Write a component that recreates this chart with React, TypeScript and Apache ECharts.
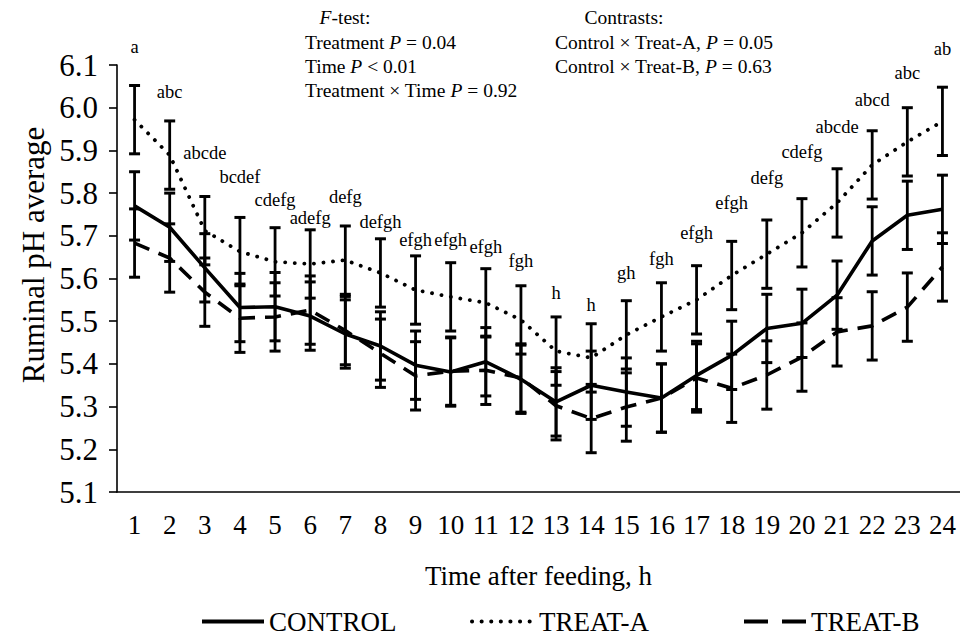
import React, { useEffect, useRef } from "react";
import * as echarts from "echarts";

const hours = ["1","2","3","4","5","6","7","8","9","10","11","12","13","14","15","16","17","18","19","20","21","22","23","24"];
const control = [5.77, 5.72, 5.625, 5.532, 5.534, 5.512, 5.47, 5.442, 5.397, 5.381, 5.405, 5.364, 5.311, 5.35, 5.334, 5.32, 5.373, 5.42, 5.483, 5.495, 5.561, 5.688, 5.748, 5.762];
const treatA = [5.972, 5.889, 5.712, 5.663, 5.639, 5.634, 5.643, 5.613, 5.573, 5.557, 5.543, 5.503, 5.43, 5.414, 5.468, 5.51, 5.55, 5.607, 5.657, 5.707, 5.777, 5.866, 5.92, 5.968];
const treatB = [5.683, 5.648, 5.568, 5.507, 5.51, 5.526, 5.478, 5.425, 5.372, 5.383, 5.385, 5.367, 5.302, 5.272, 5.299, 5.32, 5.367, 5.343, 5.374, 5.416, 5.475, 5.489, 5.533, 5.627];
const sem = 0.08;
const letters = ["a","abc","abcde","bcdef","cdefg","adefg","defg","defgh","efgh","efgh","efgh","fgh","h","h","gh","fgh","efgh","efgh","defg","cdefg","abcde","abcd","abc","ab"];
const letterAt = [6.142, 6.037, 5.894, 5.838, 5.784, 5.742, 5.791, 5.732, 5.69, 5.69, 5.674, 5.641, 5.566, 5.538, 5.613, 5.646, 5.707, 5.777, 5.835, 5.896, 5.955, 6.018, 6.081, 6.137];
const yTicks = { min: 5.1, max: 6.1, step: 0.1 };

const FONT = '"Liberation Serif", "Times New Roman", serif';

function errorBarData(vals: number[]) {
  return vals.map((v, i) => [i, v - sem, v + sem]);
}

function renderErrorBar(params: any, api: any) {
  const x = api.value(0);
  const lo = api.coord([x, api.value(1)]);
  const hi = api.coord([x, api.value(2)]);
  const cap = 5.5;
  const st = { stroke: "#000", lineWidth: 2.8 };
  return {
    type: "group",
    children: [
      { type: "line", shape: { x1: hi[0], y1: hi[1], x2: lo[0], y2: lo[1] }, style: st },
      { type: "line", shape: { x1: hi[0] - cap, y1: hi[1], x2: hi[0] + cap, y2: hi[1] }, style: { stroke: "#000", lineWidth: 3 } },
      { type: "line", shape: { x1: lo[0] - cap, y1: lo[1], x2: lo[0] + cap, y2: lo[1] }, style: { stroke: "#000", lineWidth: 3 } },
    ],
  };
}

function renderLetter(params: any, api: any) {
  const p = api.coord([api.value(0), api.value(1)]);
  return {
    type: "text",
    x: p[0],
    y: p[1],
    style: {
      text: letters[params.dataIndex],
      textAlign: "center",
      textVerticalAlign: "middle",
      fontSize: 18.5,
      fontFamily: FONT,
      fill: "#000",
    },
  };
}

const rich = { i: { fontStyle: "italic", fontSize: 19.5, fontFamily: FONT, fill: "#000" } };
function note(text: string, x: number, y: number, align: string) {
  return {
    type: "text",
    x,
    y,
    style: {
      text,
      rich,
      textAlign: align,
      textVerticalAlign: "middle",
      fontSize: 19.5,
      fontFamily: FONT,
      fill: "#000",
    },
  };
}

export default function App() {
  const ref = useRef<HTMLDivElement>(null);
  useEffect(() => {
    if (!ref.current) return;
    const chart = echarts.init(ref.current, null, { renderer: "svg" });
    const legendText = { fontSize: 27, fontFamily: FONT, color: "#000" };
    const legendBase = {
      top: 608,
      padding: 0,
      itemWidth: 62,
      itemHeight: 14,
      textStyle: legendText,
      lineStyle: { width: 4 },
      itemStyle: { color: "rgba(0,0,0,0)", borderWidth: 0, opacity: 0 },
    };
    chart.setOption({
      animation: false,
      textStyle: { fontFamily: FONT, color: "#000" },
      grid: { left: 117, top: 65, width: 850, height: 427, containLabel: false },
      legend: [
        { ...legendBase, data: ["CONTROL"], left: 200 },
        { ...legendBase, data: ["TREAT-A"], left: 470 },
        { ...legendBase, data: ["TREAT-B"], left: 742, lineStyle: { width: 4, type: [24, 14] } },
      ],
      xAxis: {
        type: "category",
        data: hours,
        boundaryGap: true,
        name: "Time after feeding, h",
        nameLocation: "middle",
        nameGap: 70,
        nameTextStyle: { fontSize: 27, fontFamily: FONT, color: "#000" },
        axisLine: { lineStyle: { color: "#000", width: 1.6 } },
        axisTick: { inside: true, length: 7, lineStyle: { color: "#000", width: 1.6 } },
        axisLabel: { fontSize: 27, fontFamily: FONT, color: "#000", margin: 19, interval: 0 },
        splitLine: { show: false },
      },
      yAxis: {
        type: "value",
        min: yTicks.min,
        max: yTicks.max,
        interval: yTicks.step,
        axisLine: { show: true, lineStyle: { color: "#000", width: 1.6 } },
        axisTick: { show: true, inside: false, length: 8, lineStyle: { color: "#000", width: 1.6 } },
        axisLabel: { fontSize: 31, fontFamily: FONT, color: "#000", margin: 19, formatter: (v: number) => v.toFixed(1) },
        splitLine: { show: false },
      },
      graphic: [
        {
          type: "text",
          x: 33,
          y: 255,
          rotation: Math.PI / 2,
          style: {
            text: "Ruminal pH average",
            textAlign: "center",
            textVerticalAlign: "middle",
            fontSize: 31,
            fontFamily: FONT,
            fill: "#000",
          },
        },
        note("{i|F}-test:", 345, 17, "center"),
        note("Treatment {i|P} = 0.04", 305, 42, "left"),
        note("Time {i|P} < 0.01", 305, 66, "left"),
        note("Treatment × Time {i|P} = 0.92", 305, 90, "left"),
        note("Contrasts:", 624, 17, "center"),
        note("Control × Treat-A, {i|P} = 0.05", 555, 42, "left"),
        note("Control × Treat-B, {i|P} = 0.63", 555, 66, "left"),
      ],
      series: [
        {
          name: "CONTROL",
          type: "line",
          data: control,
          symbol: "none",
          lineStyle: { color: "#000", width: 3.6, type: "solid" },
          itemStyle: { color: "#000" },
          z: 3,
        },
        {
          name: "TREAT-A",
          type: "line",
          data: treatA,
          symbol: "none",
          lineStyle: { color: "#000", width: 3.8, type: [0.1, 9.5], cap: "round" },
          itemStyle: { color: "#000" },
          z: 3,
        },
        {
          name: "TREAT-B",
          type: "line",
          data: treatB,
          symbol: "none",
          lineStyle: { color: "#000", width: 3.6, type: [16, 10] },
          itemStyle: { color: "#000" },
          z: 3,
        },
        { type: "custom", name: "errA", data: errorBarData(treatA), renderItem: renderErrorBar, z: 4, silent: true },
        { type: "custom", name: "errC", data: errorBarData(control), renderItem: renderErrorBar, z: 4, silent: true },
        { type: "custom", name: "errB", data: errorBarData(treatB), renderItem: renderErrorBar, z: 4, silent: true },
        {
          type: "custom",
          name: "letters",
          data: letterAt.map((v, i) => [i, v]),
          renderItem: renderLetter,
          z: 5,
          silent: true,
          clip: false,
        },
      ],
    });
    return () => chart.dispose();
  }, []);
  return (
    <div
      ref={ref}
      style={{ position: "fixed", left: 0, top: 0, width: 960, height: 636, background: "#fff" }}
    />
  );
}
